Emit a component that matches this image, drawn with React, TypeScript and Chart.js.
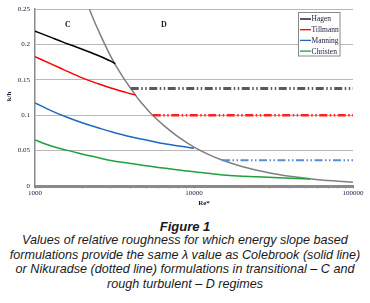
import React, { useEffect, useRef } from "react";
import { Chart, registerables } from "chart.js";

Chart.register(...registerables);

// Boundary curve (Colebrook / Nikuradse limit between regimes C and D)
const boundaryRe = [2100, 2300, 2600, 3000, 3500, 4000, 4500, 5000, 5500, 6500, 8000, 10000, 12500, 15000, 20000, 30000, 40000, 55000, 75000, 100000];
const boundaryKh = [0.262, 0.239, 0.212, 0.183, 0.157, 0.138, 0.122, 0.11, 0.1, 0.085, 0.069, 0.055, 0.044, 0.0367, 0.0275, 0.0184, 0.0138, 0.01, 0.0073, 0.0054];

// Solid lines (transitional regime C)
const hagenRe = [1000, 1250, 1500, 1750, 2000, 2500, 3000, 3200];
const hagenKh = [0.219, 0.2105, 0.2035, 0.198, 0.193, 0.1845, 0.1765, 0.1728];

const tillmannRe = [1000, 1250, 1500, 2000, 2500, 3000, 3500, 4000, 4300];
const tillmannKh = [0.183, 0.173, 0.165, 0.1525, 0.1445, 0.1385, 0.134, 0.1305, 0.1285];

const manningRe = [1000, 1250, 1575, 2000, 2550, 3000, 4000, 5000, 6400, 8000, 10000];
const manningKh = [0.1175, 0.107, 0.0975, 0.089, 0.0817, 0.077, 0.0695, 0.065, 0.06, 0.0565, 0.0535];

const christenRe = [1000, 1250, 1575, 2000, 2550, 3000, 4000, 5000, 6400, 8000, 10400, 13000, 16800, 25000, 40000, 54000];
const christenKh = [0.065, 0.057, 0.0507, 0.045, 0.0397, 0.036, 0.0318, 0.0285, 0.0254, 0.0225, 0.0196, 0.0172, 0.0149, 0.013, 0.011, 0.0099];

// Dotted lines (rough turbulent regime D)
const hagenDotRe = [4000, 100000];
const hagenDotKh = [0.138, 0.138];
const tillmannDotRe = [5500, 100000];
const tillmannDotKh = [0.1, 0.1];
const manningDotRe = [15000, 100000];
const manningDotKh = [0.0365, 0.0365];

const xTickValues = [1000, 2000, 3000, 4000, 5000, 6000, 7000, 8000, 9000, 10000, 20000, 30000, 40000, 50000, 60000, 70000, 80000, 90000, 100000];
const xTickLabels = ["1000", "10000", "100000"];

const legendNames = ["Hagen", "Tillmann", "Manning", "Christen"];
const legendColors = ["#000000", "#ff0000", "#1f68c0", "#1ea040"];

const zip = (xs: number[], ys: number[]) => xs.map((x, i) => ({ x, y: ys[i] }));

const SERIF = "'Liberation Serif', 'Times New Roman', serif";
const TEXT = "#202040";

const overlay = {
  id: "overlay",
  afterDraw(chart: any) {
    const ctx = chart.ctx;
    ctx.save();
    // region letters
    ctx.fillStyle = "#202030";
    ctx.font = `bold 8px ${SERIF}`;
    ctx.textAlign = "center";
    ctx.textBaseline = "middle";
    ctx.fillText("C", 68, 25);
    ctx.fillText("D", 164, 24.5);
    // axis titles
    ctx.fillStyle = TEXT;
    ctx.font = `bold 7px ${SERIF}`;
    ctx.fillText("Re*", 204, 203.5);
    ctx.save();
    ctx.translate(9.5, 96.5);
    ctx.rotate(-Math.PI / 2);
    ctx.fillText("k/h", 0, 0);
    ctx.restore();
    // legend box
    const bx = 298.5, by = 12.5, bw = 41.5, bh = 43.5;
    ctx.fillStyle = "#ffffff";
    ctx.fillRect(bx, by, bw, bh);
    ctx.strokeStyle = "#888888";
    ctx.lineWidth = 1;
    ctx.strokeRect(bx, by, bw, bh);
    ctx.font = `7.5px ${SERIF}`;
    ctx.textAlign = "left";
    legendNames.forEach((name, i) => {
      const yy = 19 + i * 10.7;
      ctx.strokeStyle = legendColors[i];
      ctx.lineWidth = 1.3;
      ctx.beginPath();
      ctx.moveTo(bx + 1.5, yy);
      ctx.lineTo(bx + 12.5, yy);
      ctx.stroke();
      ctx.fillStyle = TEXT;
      ctx.fillText(name, bx + 13, yy + 0.5);
    });
    ctx.restore();
  },
};

export default function App() {
  const ref = useRef<HTMLCanvasElement | null>(null);

  useEffect(() => {
    if (!ref.current) return;
    const solid = (data: any, color: string) => ({
      data,
      borderColor: color,
      borderWidth: 1.5,
      pointRadius: 0,
      fill: false,
      cubicInterpolationMode: "monotone" as const,
    });
    const dotted = (data: any, color: string, width: number) => ({
      data,
      borderColor: color,
      borderWidth: width,
      pointRadius: 0,
      fill: false,
      borderDash: [8, 2.5, 1.5, 2.5, 1.5, 2.5],
    });
    const chart = new Chart(ref.current, {
      type: "line",
      data: {
        datasets: [
          dotted(zip(hagenDotRe, hagenDotKh), "#5a5a5a", 3),
          dotted(zip(tillmannDotRe, tillmannDotKh), "#ff2020", 2.5),
          dotted(zip(manningDotRe, manningDotKh), "#5b8bd0", 2),
          solid(zip(hagenRe, hagenKh), legendColors[0]),
          solid(zip(tillmannRe, tillmannKh), legendColors[1]),
          solid(zip(manningRe, manningKh), legendColors[2]),
          solid(zip(christenRe, christenKh), legendColors[3]),
          solid(zip(boundaryRe, boundaryKh), "#7f7f7f"),
        ],
      },
      options: {
        animation: false,
        responsive: false,
        maintainAspectRatio: false,
        events: [],
        layout: { padding: { left: 0, right: 17, top: 9, bottom: 0 } },
        plugins: { legend: { display: false }, tooltip: { enabled: false } },
        scales: {
          x: {
            type: "logarithmic",
            min: 1000,
            max: 100000,
            afterBuildTicks: (s: any) => {
              s.ticks = xTickValues.map((v) => ({ value: v }));
            },
            afterFit: (s: any) => {
              s.height = 26;
            },
            ticks: {
              autoSkip: false,
              maxRotation: 0,
              minRotation: 0,
              padding: 0,
              color: TEXT,
              font: { family: SERIF, size: 7 },
              callback: (v: any) => {
                const s = String(v);
                return xTickLabels.includes(s) ? s : "";
              },
            },
            grid: { drawOnChartArea: false, drawTicks: true, tickLength: 3, color: "#d0d0d0" },
            border: { color: "#8a8a8a", width: 3 },
          },
          y: {
            min: 0,
            max: 0.25,
            afterFit: (s: any) => {
              s.width = 35;
            },
            ticks: {
              stepSize: 0.05,
              padding: 5,
              color: TEXT,
              font: { family: SERIF, size: 7 },
              callback: (v: any) => String(Number(Number(v).toFixed(2))),
            },
            grid: { color: "#b8b8b8", drawTicks: false, lineWidth: 1 },
            border: { color: "#8a8a8a", width: 1.5 },
          },
        },
      },
      plugins: [overlay],
    });
    return () => chart.destroy();
  }, []);

  const captionStyle: React.CSSProperties = {
    fontFamily: "'Liberation Sans', Arial, sans-serif",
    fontStyle: "italic",
    fontSize: "12.6px",
    lineHeight: "14.7px",
    color: "#1a1a1a",
    textAlign: "center",
    margin: 0,
    whiteSpace: "nowrap",
  };

  return (
    <div style={{ position: "absolute", left: 0, top: 0, width: 370, height: 303, background: "#ffffff", overflow: "hidden" }}>
      <canvas ref={ref} width={370} height={212} style={{ display: "block", width: 370, height: 212 }} />
      <div style={{ position: "absolute", left: 0, top: 220.5, width: 370 }}>
        <div style={{ ...captionStyle, fontWeight: "bold", fontSize: "13px", lineHeight: "12.5px" }}>Figure 1</div>
        <div style={captionStyle}>
          Values of relative roughness for which energy slope based
          <br />
          formulations provide the same λ value as Colebrook (solid line)
          <br />
          or Nikuradse (dotted line) formulations in transitional – C and
          <br />
          rough turbulent – D regimes
        </div>
      </div>
    </div>
  );
}
